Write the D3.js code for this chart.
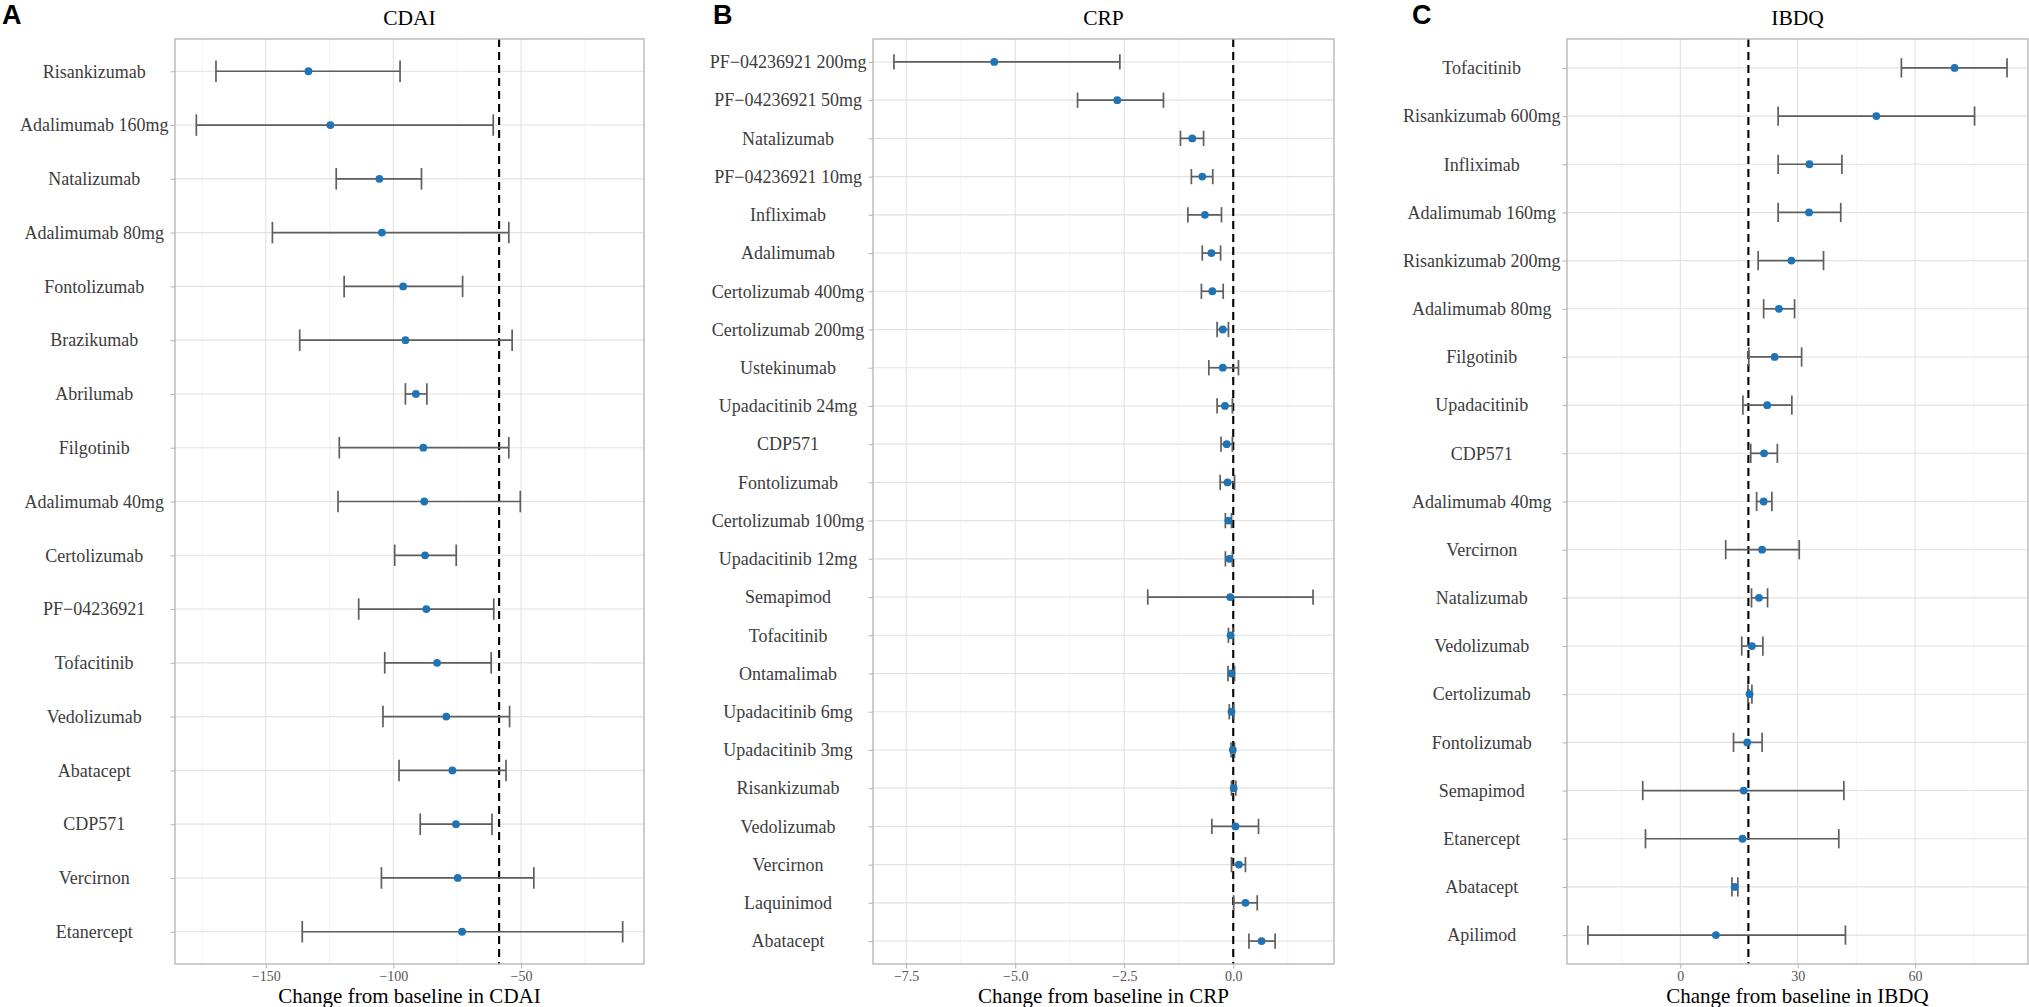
<!DOCTYPE html>
<html>
<head>
<meta charset="utf-8">
<script src="https://cdn.jsdelivr.net/npm/d3@7"></script>
<style>
  body { margin: 0; background: #fff; }
  svg { display: block; }
</style>
</head>
<body>
<svg id="chart" width="2029" height="1007"></svg>
<script>
// ---- CDAI ----
const cdaiDrugs = ["Risankizumab", "Adalimumab 160mg", "Natalizumab", "Adalimumab 80mg", "Fontolizumab",
  "Brazikumab", "Abrilumab", "Filgotinib", "Adalimumab 40mg", "Certolizumab", "PF\u221204236921",
  "Tofacitinib", "Vedolizumab", "Abatacept", "CDP571", "Vercirnon", "Etanercept"];
const cdaiMean = [-133.3, -124.7, -105.5, -104.5, -96.2, -95.3, -91.2, -88.3, -87.9, -87.6, -87.1, -82.9, -79.3, -76.9, -75.5, -74.8, -73.1];
const cdaiLow  = [-169.5, -177.2, -122.4, -147.4, -119.3, -136.7, -95.3, -121.2, -121.7, -99.5, -113.6, -103.4, -104.1, -97.8, -89.5, -104.7, -135.7];
const cdaiHigh = [-97.4, -60.9, -89.0, -54.8, -72.9, -53.5, -86.9, -54.8, -50.3, -75.4, -60.7, -61.7, -54.5, -55.9, -61.4, -45.0, -10.2];
const cdaiRef = -58.6;
const cdaiTicks = [-150, -100, -50];

// ---- CRP ----
const crpDrugs = ["PF\u221204236921 200mg", "PF\u221204236921 50mg", "Natalizumab", "PF\u221204236921 10mg", "Infliximab",
  "Adalimumab", "Certolizumab 400mg", "Certolizumab 200mg", "Ustekinumab", "Upadacitinib 24mg", "CDP571",
  "Fontolizumab", "Certolizumab 100mg", "Upadacitinib 12mg", "Semapimod", "Tofacitinib", "Ontamalimab",
  "Upadacitinib 6mg", "Upadacitinib 3mg", "Risankizumab", "Vedolizumab", "Vercirnon", "Laquinimod", "Abatacept"];
const crpMean = [-5.48, -2.66, -0.94, -0.71, -0.65, -0.50, -0.48, -0.24, -0.24, -0.19, -0.15, -0.13,
  -0.11, -0.09, -0.07, -0.06, -0.04, -0.04, -0.01, 0.01, 0.05, 0.13, 0.28, 0.65];
const crpLow  = [-7.78, -3.57, -1.21, -0.96, -1.04, -0.71, -0.73, -0.37, -0.56, -0.37, -0.28, -0.30,
  -0.18, -0.18, -1.96, -0.11, -0.12, -0.09, -0.05, -0.04, -0.49, -0.04, 0.01, 0.36];
const crpHigh = [-2.60, -1.60, -0.68, -0.47, -0.27, -0.29, -0.23, -0.11, 0.12, -0.02, -0.02, 0.03,
  -0.04, -0.02, 1.83, -0.01, 0.03, 0.01, 0.03, 0.06, 0.58, 0.28, 0.55, 0.96];
const crpRef = 0;
const crpTicks = [-7.5, -5.0, -2.5, 0.0];

// ---- IBDQ ----
const ibdqDrugs = ["Tofacitinib", "Risankizumab 600mg", "Infliximab", "Adalimumab 160mg", "Risankizumab 200mg",
  "Adalimumab 80mg", "Filgotinib", "Upadacitinib", "CDP571", "Adalimumab 40mg", "Vercirnon", "Natalizumab",
  "Vedolizumab", "Certolizumab", "Fontolizumab", "Semapimod", "Etanercept", "Abatacept", "Apilimod"];
const ibdqMean = [70.1, 50.1, 33.0, 32.9, 28.4, 25.2, 24.1, 22.2, 21.4, 21.3, 20.9, 20.1, 18.3, 17.7, 17.1, 16.2, 15.9, 13.9, 9.1];
const ibdqLow  = [56.5, 25.0, 25.0, 25.0, 19.9, 21.3, 17.5, 16.0, 18.0, 19.5, 11.6, 18.2, 15.7, 17.3, 13.6, -9.6, -8.9, 13.2, -23.6];
const ibdqHigh = [83.5, 75.2, 41.3, 41.0, 36.6, 29.2, 31.0, 28.5, 24.8, 23.4, 30.4, 22.3, 21.1, 18.3, 20.9, 41.8, 40.5, 14.7, 42.2];
const ibdqRef = 17.4;
const ibdqTicks = [0, 30, 60];

const svg = d3.select("#chart");
const TOP = 39, BOTTOM = 964;
const serif = "'Liberation Serif','Times New Roman',serif";

function drawPanel(cfg) {
  var n = cfg.drugs.length;
  var rows = cfg.drugs.map(function(d, i) {
    return {name: d, mean: cfg.mean[i], low: cfg.low[i], high: cfg.high[i]};
  });

  // ggplot style 5% expansion of the data range
  var lo = d3.min(cfg.low), hi = d3.max(cfg.high);
  var pad = (hi - lo) * 0.05;
  var x = d3.scaleLinear().domain([lo - pad, hi + pad]).range([cfg.left, cfg.right]);
  var y = d3.scalePoint().domain(cfg.drugs).range([TOP, BOTTOM]).padding(0.6);
  var g = svg.append("g");

  // minor vertical grid
  var step = cfg.ticks[1] - cfg.ticks[0];
  var minor = [];
  for (var v = cfg.ticks[0] - step / 2; v <= x.domain()[1]; v += step) {
    if (v >= x.domain()[0]) minor.push(v);
  }
  g.selectAll("line.minor").data(minor).enter().append("line")
    .attr("x1", d => x(d)).attr("x2", d => x(d))
    .attr("y1", TOP).attr("y2", BOTTOM)
    .attr("stroke", "#efefef").attr("stroke-width", 0.7);

  g.selectAll("line.majorx").data(cfg.ticks).enter().append("line")
    .attr("x1", d => x(d)).attr("x2", d => x(d))
    .attr("y1", TOP).attr("y2", BOTTOM)
    .attr("stroke", "#e2e2e2").attr("stroke-width", 1.1);

  g.selectAll("line.majory").data(cfg.drugs).enter().append("line")
    .attr("x1", cfg.left).attr("x2", cfg.right)
    .attr("y1", d => y(d)).attr("y2", d => y(d))
    .attr("stroke", "#e2e2e2").attr("stroke-width", 1.1);

  // reference line
  g.append("line")
    .attr("x1", x(cfg.ref)).attr("x2", x(cfg.ref))
    .attr("y1", TOP).attr("y2", BOTTOM)
    .attr("stroke", "#000").attr("stroke-width", 2.1)
    .attr("stroke-dasharray", "8,5");

  // error bars
  var cap = y.step() * 0.2;
  var eb = g.selectAll("g.eb").data(rows).enter().append("g");
  eb.append("line")
    .attr("x1", d => x(d.low)).attr("x2", d => x(d.high))
    .attr("y1", d => y(d.name)).attr("y2", d => y(d.name));
  eb.append("line")
    .attr("x1", d => x(d.low)).attr("x2", d => x(d.low))
    .attr("y1", d => y(d.name) - cap).attr("y2", d => y(d.name) + cap);
  eb.append("line")
    .attr("x1", d => x(d.high)).attr("x2", d => x(d.high))
    .attr("y1", d => y(d.name) - cap).attr("y2", d => y(d.name) + cap);
  eb.selectAll("line").attr("stroke", "#5e5e5e").attr("stroke-width", 1.7);

  g.selectAll("circle").data(rows).enter().append("circle")
    .attr("cx", d => x(d.mean)).attr("cy", d => y(d.name))
    .attr("r", 3.9).attr("fill", "#1f74b5");

  // panel border
  g.append("rect")
    .attr("x", cfg.left).attr("y", TOP)
    .attr("width", cfg.right - cfg.left).attr("height", BOTTOM - TOP)
    .attr("fill", "none").attr("stroke", "#b8b8b8").attr("stroke-width", 1.4);

  // x axis
  var xa = g.append("g").attr("transform", "translate(0," + BOTTOM + ")")
    .call(d3.axisBottom(x).tickValues(cfg.ticks).tickFormat(cfg.fmt).tickSize(4.4).tickPadding(2.4));
  xa.select(".domain").remove();
  xa.selectAll("line").attr("stroke", "#b8b8b8").attr("stroke-width", 1.1);
  xa.selectAll("text").attr("font-family", serif).attr("font-size", 14).attr("fill", "#555");

  // y axis, labels centred as in the source figure
  var ya = g.append("g").attr("transform", "translate(" + cfg.left + ",0)")
    .call(d3.axisLeft(y).tickSize(4.4).tickPadding(2.2));
  ya.select(".domain").remove();
  ya.selectAll("line").attr("stroke", "#b8b8b8").attr("stroke-width", 1.1);
  var yt = ya.selectAll("text").attr("font-family", serif).attr("font-size", 18).attr("fill", "#3c3c3c");
  var maxW = 0;
  yt.each(function() { maxW = Math.max(maxW, this.getComputedTextLength()); });
  yt.attr("text-anchor", "middle").attr("x", -(4.4 + 2.2 + maxW / 2));

  var cx = (cfg.left + cfg.right) / 2;
  svg.append("text").attr("x", cx).attr("y", 25)
    .attr("text-anchor", "middle").attr("font-family", serif).attr("font-size", 21.5)
    .text(cfg.title);
  svg.append("text").attr("x", cx).attr("y", 1003)
    .attr("text-anchor", "middle").attr("font-family", serif).attr("font-size", 21)
    .text("Change from baseline in " + cfg.title);
  svg.append("text").attr("x", cfg.tagX).attr("y", 24)
    .attr("font-family", "'Liberation Sans',Arial,sans-serif").attr("font-weight", "bold").attr("font-size", 27)
    .text(cfg.tag);
}

drawPanel({title: "CDAI", tag: "A", tagX: 2, left: 175, right: 644,
  drugs: cdaiDrugs, mean: cdaiMean, low: cdaiLow, high: cdaiHigh, ref: cdaiRef,
  ticks: cdaiTicks, fmt: d3.format("d")});
drawPanel({title: "CRP", tag: "B", tagX: 713, left: 873, right: 1334,
  drugs: crpDrugs, mean: crpMean, low: crpLow, high: crpHigh, ref: crpRef,
  ticks: crpTicks, fmt: d3.format(".1f")});
drawPanel({title: "IBDQ", tag: "C", tagX: 1412, left: 1567, right: 2028,
  drugs: ibdqDrugs, mean: ibdqMean, low: ibdqLow, high: ibdqHigh, ref: ibdqRef,
  ticks: ibdqTicks, fmt: d3.format("d")});
</script>
</body>
</html>
